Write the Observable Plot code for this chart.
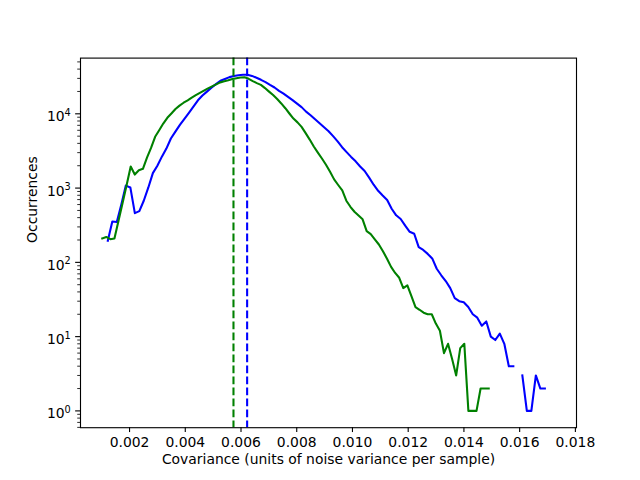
<!DOCTYPE html>
<html>
<head>
<meta charset="utf-8">
<script src="https://cdn.jsdelivr.net/npm/d3@7"></script>
<script src="https://cdn.jsdelivr.net/npm/@observablehq/plot@0.6"></script>
<style>
  html, body { margin: 0; padding: 0; background: #fff; }
</style>
</head>
<body>
<div id="chart"></div>
<script>
// Histogram bins (uniform): first bin centre and bin width, per series
const blueStart = 0.00122, blueWidth = 0.0001617;
const greenStart = 0.00102, greenWidth = 0.000146;

// Occurrence counts per bin (0 = empty bin)
const blueCounts = [
  195, 355, 350, 600, 1080, 1020, 460, 490, 680, 1020,
  1590, 2000, 2650, 3400, 4650, 5750, 7100, 8560, 10300, 12500,
  15200, 17600, 19900, 22500, 25100, 27900, 29500, 31200, 32200, 33100,
  33500, 33500, 32400, 30600, 28700, 26700, 24500, 22600, 20400, 18700,
  16900, 15300, 13700, 12300, 10700, 9550, 8430, 7460, 6600, 5830,
  5010, 4250, 3550, 3050, 2630, 2290, 1950, 1700, 1380, 1110,
  920, 793, 690, 527, 430, 384, 312, 258, 243, 160,
  147, 130, 113, 82, 67, 56, 45, 33, 30, 29,
  25, 20, 18, 14, 16, 10, 9, 11, 8, 4,
  4, 0, 3, 1, 1, 3, 2, 2, 0, 0
];
const greenCounts = [
  210, 220, 205, 210, 363, 630, 1100, 1950, 1520, 1740,
  1820, 2570, 3470, 4900, 6000, 7400, 8830, 10100, 11600, 12900,
  14100, 15200, 16500, 17800, 19100, 20500, 22000, 23400, 24900, 26500,
  27400, 28300, 29400, 30200, 30800, 31000, 29600, 27600, 25900, 24500,
  22200, 19900, 17900, 15800, 13800, 11900, 10100, 8630, 7670, 6680,
  5490, 4500, 3630, 3000, 2500, 2060, 1660, 1310, 1100, 930,
  676, 560, 480, 427, 380, 263, 240, 204, 174, 141,
  112, 87, 72, 62, 45, 49, 35, 25, 23, 21,
  20, 20, 15, 12, 6, 8, 5, 3, 7, 8,
  1, 1, 1, 2, 2, 2
];

// Mean covariance markers
const greenMean = 0.00573;
const blueMean = 0.00622;

// Axis ticks
const xTicks = [0.002, 0.004, 0.006, 0.008, 0.010, 0.012, 0.014, 0.016, 0.018];
const yMajor = [1, 10, 100, 1000, 10000];
const yExponents = ["0", "1", "2", "3", "4"];
const yMinor = [0.6, 0.7, 0.8, 0.9, 2, 3, 4, 5, 6, 7, 8, 9,
  20, 30, 40, 50, 60, 70, 80, 90, 200, 300, 400, 500, 600, 700, 800, 900,
  2000, 3000, 4000, 5000, 6000, 7000, 8000, 9000, 20000, 30000, 40000, 50000];

const xLabel = "Covariance (units of noise variance per sample)";
const yLabel = "Occurrences";

const blue = blueCounts.map((c, i) => ({x: blueStart + i * blueWidth, c}));
const green = greenCounts.map((c, i) => ({x: greenStart + i * greenWidth, c}));
const yAcc = d => d.c > 0 ? d.c : NaN;

const chart = Plot.plot({
  width: 640,
  height: 480,
  marginLeft: 80,
  marginRight: 64,
  marginTop: 57.6,
  marginBottom: 52.8,
  style: {fontFamily: "DejaVu Sans", fontSize: "13.9px", background: "#fff", color: "#000", overflow: "visible"},
  x: {domain: [0.00024, 0.01804]},
  y: {type: "log", domain: [0.594, 56250]},
  marks: [
    Plot.line(blue, {x: "x", y: yAcc, stroke: "#0000ff", strokeWidth: 2.08, strokeLinejoin: "round", strokeLinecap: "square"}),
    Plot.line(green, {x: "x", y: yAcc, stroke: "#008000", strokeWidth: 2.08, strokeLinejoin: "round", strokeLinecap: "square"}),
    Plot.ruleX([greenMean], {stroke: "#008000", strokeWidth: 2.08, strokeDasharray: "7.7,3.3"}),
    Plot.ruleX([blueMean], {stroke: "#0000ff", strokeWidth: 2.08, strokeDasharray: "7.7,3.3"}),
    Plot.frame({stroke: "#000", strokeWidth: 1.11}),
    Plot.axisX({ticks: xTicks, tickSize: 4.86, tickPadding: 4.86, tickFormat: d3.format(".3f"), label: null, strokeWidth: 1.11}),
    Plot.axisY({ticks: yMajor, tickSize: 4.86, tickPadding: 4.86, tickFormat: d => yExponents[yMajor.indexOf(d)], label: null, strokeWidth: 1.11}),
    Plot.axisY({ticks: yMinor, tickSize: 2.78, tickFormat: () => "", label: null, strokeWidth: 0.83}),
    Plot.text([xLabel], {frameAnchor: "bottom", dy: 36, fontSize: 13.9, fill: "#000"}),
    Plot.text([yLabel], {frameAnchor: "left", dx: -48, rotate: -90, fontSize: 13.9, fill: "#000"})
  ]
});

// Render y tick labels as 10 with a superscript exponent
const ns = "http://www.w3.org/2000/svg";
chart.querySelectorAll('g[aria-label="y-axis tick label"]').forEach(g => {
  let any = false;
  g.querySelectorAll("text").forEach(t => {
    const e = t.textContent;
    if (!e) return;
    any = true;
    t.textContent = "";
    const base = document.createElementNS(ns, "tspan");
    base.textContent = "10";
    const sup = document.createElementNS(ns, "tspan");
    sup.textContent = e;
    sup.setAttribute("dy", "-0.55em");
    sup.setAttribute("font-size", "70%");
    t.append(base, sup);
  });
  if (any) g.setAttribute("transform", (g.getAttribute("transform") || "") + " translate(0,3)");
});

document.getElementById("chart").append(chart);
</script>
</body>
</html>
